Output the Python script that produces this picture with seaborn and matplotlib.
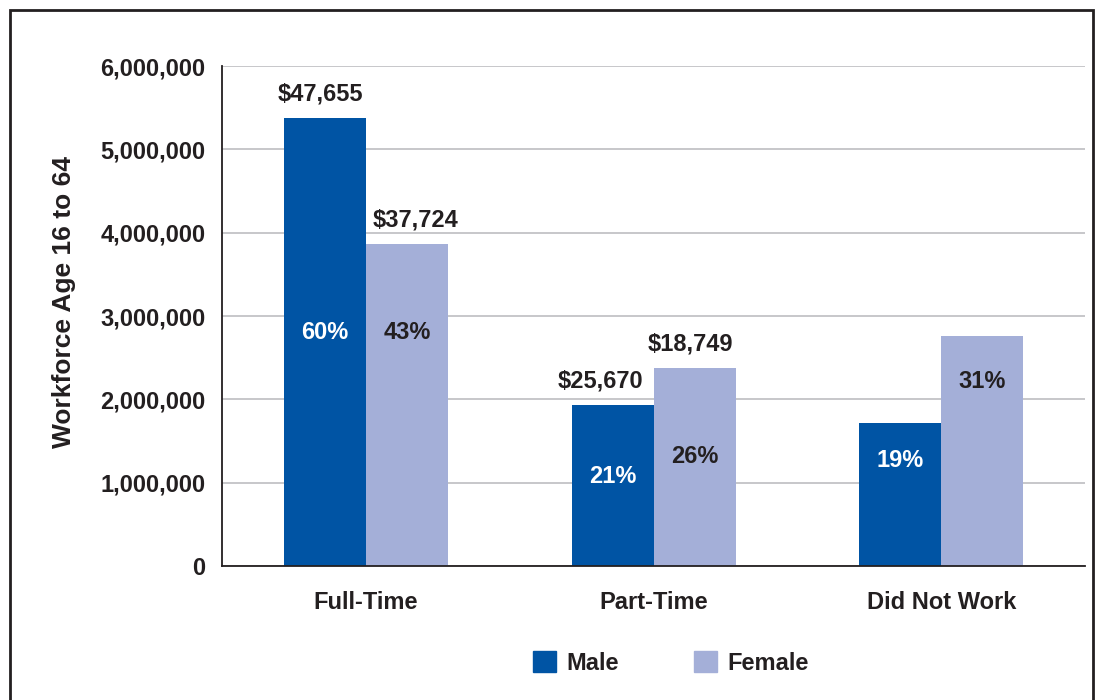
"""Workforce age 16 to 64 by work status and sex."""

import matplotlib

matplotlib.use("Agg")
import matplotlib.pyplot as plt
import pandas as pd
import seaborn as sns
from matplotlib.patches import Rectangle
from matplotlib.ticker import FuncFormatter
from matplotlib.transforms import offset_copy

statuses = ["Full-Time", "Part-Time", "Did Not Work"]
male_counts = [5380000, 1930000, 1715000]
female_counts = [3865000, 2375000, 2760000]
male_pct = ["60%", "21%", "19%"]
female_pct = ["43%", "26%", "31%"]
male_earnings = ["$47,655", "$25,670", ""]
female_earnings = ["$37,724", "$18,749", ""]

MALE = "#0054a4"
FEMALE = "#a4afd8"
INK = "#231f20"


def main():
    sns.set_theme(style="white")
    plt.rcParams["font.family"] = ["Liberation Sans", "DejaVu Sans"]
    plt.rcParams["font.weight"] = "bold"

    df = pd.DataFrame({
        "status": statuses * 2,
        "sex": ["Male"] * 3 + ["Female"] * 3,
        "count": male_counts + female_counts,
    })

    fig = plt.figure(figsize=(11, 7), dpi=100)
    ax = fig.add_axes([0.2018, 0.1914, 0.7846, 0.7143])

    sns.barplot(data=df, x="status", y="count", hue="sex", order=statuses,
                hue_order=["Male", "Female"], palette=[MALE, FEMALE],
                width=0.57, gap=0, saturation=1, linewidth=0, ax=ax,
                legend=False)

    ax.set_ylim(0, 6000000)
    ax.set_xlim(-0.5, 2.5)
    ax.set_yticks(range(0, 6000001, 1000000))
    ax.yaxis.set_major_formatter(FuncFormatter(lambda v, _: f"{int(v):,}"))
    ax.grid(axis="y", color="#c3c3c6", linewidth=1.3)
    ax.set_axisbelow(True)
    for side in ["top", "right"]:
        ax.spines[side].set_visible(False)
    ax.spines["left"].set_color(INK)
    ax.spines["bottom"].set_color(INK)
    ax.spines["left"].set_linewidth(1.3)
    ax.spines["bottom"].set_linewidth(1.3)
    ax.tick_params(axis="both", length=0, colors=INK, labelsize=17)
    ax.tick_params(axis="y", pad=12)
    ax.tick_params(axis="x", pad=18)
    for lab in ax.get_xticklabels() + ax.get_yticklabels():
        lab.set_fontweight("bold")
    ax.set_xlabel("")
    ax.set_ylabel("Workforce Age 16 to 64", fontsize=19, fontweight="bold",
                  color=INK)
    ax.yaxis.set_label_coords(-0.169, 0.528)

    # bars come in hue order: male bars then female bars
    male_bars = ax.patches[:3]
    female_bars = ax.patches[3:6]
    pct_y = {  # label heights inside bars
        0: (2800000, 2800000),
        1: (1080000, 1320000),
        2: (1270000, 2220000),
    }
    earn_dx = {0: (-4, 9), 1: (-12, -4), 2: (0, 0)}  # pixel nudges
    for i in range(3):
        for k, (bar, pct, earn, y, col) in enumerate([
            (male_bars[i], male_pct[i], male_earnings[i], pct_y[i][0], "white"),
            (female_bars[i], female_pct[i], female_earnings[i], pct_y[i][1], INK),
        ]):
            cx = bar.get_x() + bar.get_width() / 2
            ax.text(cx, y, pct, ha="center", va="center", fontsize=17,
                    fontweight="bold", color=col)
            if earn:
                tr = offset_copy(ax.transData, fig=fig,
                                 x=earn_dx[i][k], y=0, units="dots")
                ax.text(cx, bar.get_height() + 150000, earn, ha="center",
                        va="bottom", fontsize=17, fontweight="bold",
                        color=INK, transform=tr)

    handles = [Rectangle((0, 0), 1, 1, color=MALE),
               Rectangle((0, 0), 1, 1, color=FEMALE)]
    fig.legend(handles, ["Male", "Female"], loc="center",
               bbox_to_anchor=(0.61, 0.053), ncol=2, frameon=False,
               prop={"size": 17, "weight": "bold"}, handlelength=0.95,
               handleheight=0.95, handletextpad=0.45, columnspacing=3.2,
               labelcolor=INK)

    fig.patches.append(Rectangle((10 / 1100, -0.02), 1083 / 1100, 1.0057,
                                 transform=fig.transFigure, fill=False,
                                 edgecolor=INK, linewidth=2))

    fig.savefig("out.png", dpi=100)


if __name__ == "__main__":
    main()
